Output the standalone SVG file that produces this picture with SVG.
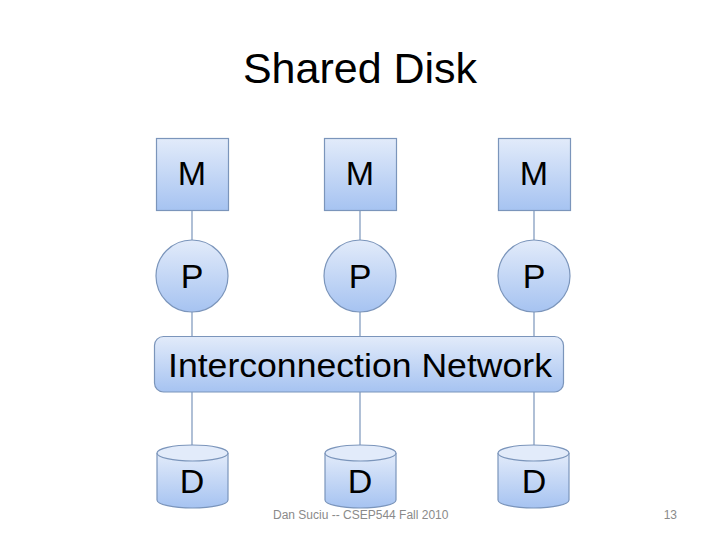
<svg xmlns="http://www.w3.org/2000/svg" width="720" height="540" viewBox="0 0 720 540">
<defs>
<linearGradient id="g" x1="0" y1="0" x2="0" y2="1">
<stop offset="0" stop-color="#e2ebfa"/>
<stop offset="1" stop-color="#a6c3f1"/>
</linearGradient>
<style>
.s{fill:url(#g);stroke:#7b95bb;stroke-width:1.2}
.t{fill:#e2ebfa;stroke:#7b95bb;stroke-width:1.2}
.c{stroke:#7b95bb;stroke-width:1.2;fill:none}
.l{font-family:"Liberation Sans",Arial,sans-serif;font-size:34px;fill:#000;text-anchor:middle}
.f{font-family:"Liberation Sans",Arial,sans-serif;font-size:12px;fill:#8a8a8a}
</style>
</defs>
<rect width="720" height="540" fill="#fff"/>
<text x="360" y="83" font-family="Liberation Sans, Arial, sans-serif" font-size="43" text-anchor="middle">Shared Disk</text>
<g id="connectors">
<line class="c" x1="192" y1="210" x2="192" y2="240"/>
<line class="c" x1="360" y1="210" x2="360" y2="240"/>
<line class="c" x1="534" y1="210" x2="534" y2="240"/>
<line class="c" x1="192" y1="312" x2="192" y2="337"/>
<line class="c" x1="360" y1="312" x2="360" y2="337"/>
<line class="c" x1="534" y1="312" x2="534" y2="337"/>
<line class="c" x1="192" y1="392" x2="192" y2="445"/>
<line class="c" x1="360" y1="392" x2="360" y2="445"/>
<line class="c" x1="534" y1="392" x2="534" y2="445"/>
</g>
<g id="M1"><rect class="s" x="156.5" y="138.5" width="72" height="72"/><text class="l" x="192" y="185">M</text></g>
<g id="M2"><rect class="s" x="324.5" y="138.5" width="72" height="72"/><text class="l" x="360" y="185">M</text></g>
<g id="M3"><rect class="s" x="498.5" y="138.5" width="72" height="72"/><text class="l" x="534" y="185">M</text></g>
<g id="P1"><circle class="s" cx="192" cy="276" r="36"/><text class="l" x="192" y="288">P</text></g>
<g id="P2"><circle class="s" cx="360" cy="276" r="36"/><text class="l" x="360" y="288">P</text></g>
<g id="P3"><circle class="s" cx="534" cy="276" r="36"/><text class="l" x="534" y="288">P</text></g>
<g id="network"><rect class="s" x="154.5" y="336.5" width="409" height="55.5" rx="9"/><text class="l" x="360" y="377" textLength="384" lengthAdjust="spacingAndGlyphs">Interconnection Network</text></g>
<g id="D1"><path class="s" d="M157,453 V500 A35.5,8 0 0 0 228,500 V453"/><ellipse class="t" cx="192.5" cy="453" rx="35.5" ry="8"/><text class="l" x="192" y="493">D</text></g>
<g id="D2"><path class="s" d="M325,453 V500 A35.5,8 0 0 0 396,500 V453"/><ellipse class="t" cx="360.5" cy="453" rx="35.5" ry="8"/><text class="l" x="360" y="493">D</text></g>
<g id="D3"><path class="s" d="M498,453 V500 A35.5,8 0 0 0 569,500 V453"/><ellipse class="t" cx="533.5" cy="453" rx="35.5" ry="8"/><text class="l" x="534" y="493">D</text></g>
<text class="f" x="273" y="519">Dan Suciu -- CSEP544 Fall 2010</text>
<text class="f" x="677" y="519" text-anchor="end">13</text>
</svg>
